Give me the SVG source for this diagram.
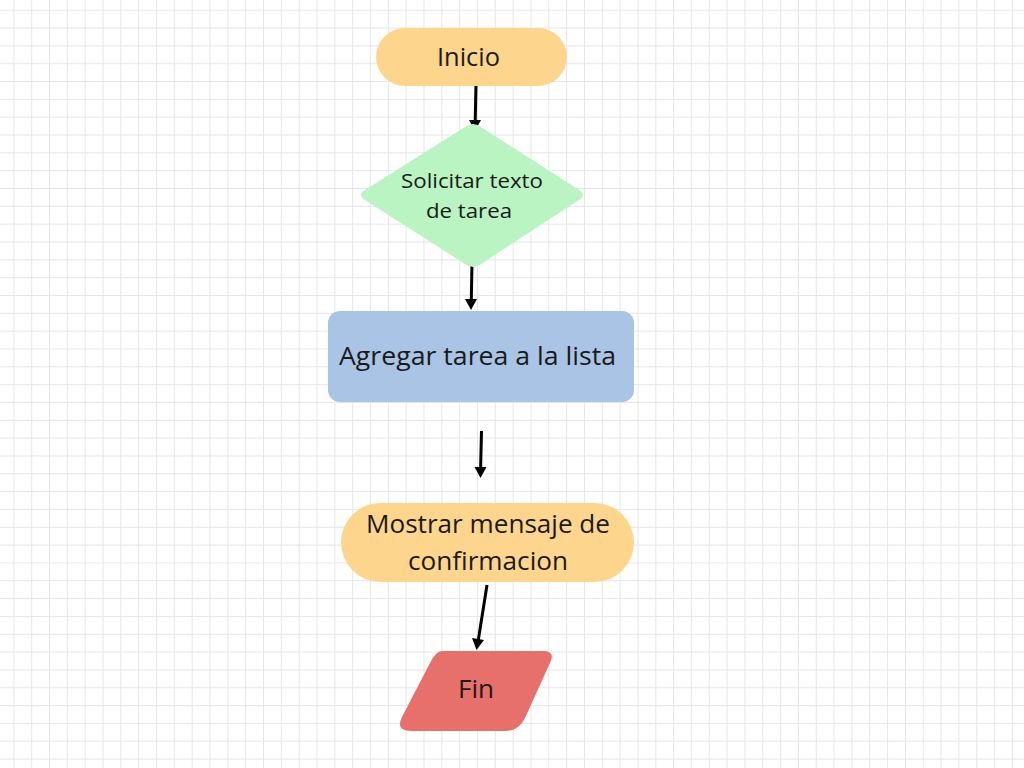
<svg xmlns="http://www.w3.org/2000/svg" width="1024" height="768" viewBox="0 0 1024 768">
  <defs>
    <pattern id="grid" x="13.4" y="9.7" width="17.83" height="17.83" patternUnits="userSpaceOnUse">
      <path d="M0 0 H17.83 M0 0 V17.83" fill="none" stroke="#e6e6e6" stroke-width="2"/>
    </pattern>
    <style>
      .lbl { font-family: "Open Sans", "Lato", "Liberation Sans", sans-serif; fill: #1a1a1a; text-anchor: middle; }
      .big { font-size: 25px; }
      .small { font-size: 20.5px; }
      .conn { stroke: #000; stroke-width: 3; fill: none; }
    </style>
  </defs>
  <rect width="1024" height="768" fill="#ffffff"/>
  <rect width="1024" height="768" fill="url(#grid)"/>

  <g id="connectors">
    <path class="conn" d="M476 83 L475.2 122"/>
    <path d="M469 120 L481 120 L475 131 Z" fill="#000"/>
    <path class="conn" d="M472 262 L471.3 300"/>
    <path d="M465 299 L477 299 L471 310 Z" fill="#000"/>
    <path class="conn" d="M481.5 431 L480.6 468"/>
    <path d="M474.5 467 L486.5 467 L480.5 478 Z" fill="#000"/>
    <path class="conn" d="M487 585 L478.3 640"/>
    <path d="M472 638 L484 640 L476.5 650 Z" fill="#000"/>
  </g>

  <g id="inicio">
    <rect x="376" y="28" width="191" height="58" rx="29" fill="#fdd58d"/>
    <text class="lbl big" x="468.5" y="66" textLength="63" lengthAdjust="spacingAndGlyphs">Inicio</text>
  </g>

  <g id="solicitar">
    <path d="M465 127 Q473 121 481 127 L579 190 Q587 195 579 200 L481 264 Q473 270 465 264 L365 200 Q357 195 365 190 Z" fill="#b9f4c2"/>
    <text class="lbl small" x="472" y="188" textLength="142" lengthAdjust="spacingAndGlyphs">Solicitar texto</text>
    <text class="lbl small" x="469" y="218" textLength="86" lengthAdjust="spacingAndGlyphs">de tarea</text>
  </g>

  <g id="agregar">
    <rect x="328" y="311" width="306" height="91" rx="12" fill="#a9c4e4"/>
    <text class="lbl big" x="477.5" y="365" textLength="277" lengthAdjust="spacingAndGlyphs">Agregar tarea a la lista</text>
  </g>

  <g id="mostrar">
    <rect x="341" y="503" width="293" height="79" rx="39.5" fill="#fdd58d"/>
    <text class="lbl big" x="488" y="533" textLength="244" lengthAdjust="spacingAndGlyphs">Mostrar mensaje de</text>
    <text class="lbl big" x="488" y="570" textLength="160" lengthAdjust="spacingAndGlyphs">confirmacion</text>
  </g>

  <g id="fin">
    <path d="M442 651 L543 651 Q556 651 550 663 L525 718 Q519 731 505 731 L411 731 Q395 731 402 717 L430 663 Q436 651 442 651 Z" fill="#e8706a"/>
    <text class="lbl big" x="476" y="698" textLength="36" lengthAdjust="spacingAndGlyphs">Fin</text>
  </g>
</svg>
